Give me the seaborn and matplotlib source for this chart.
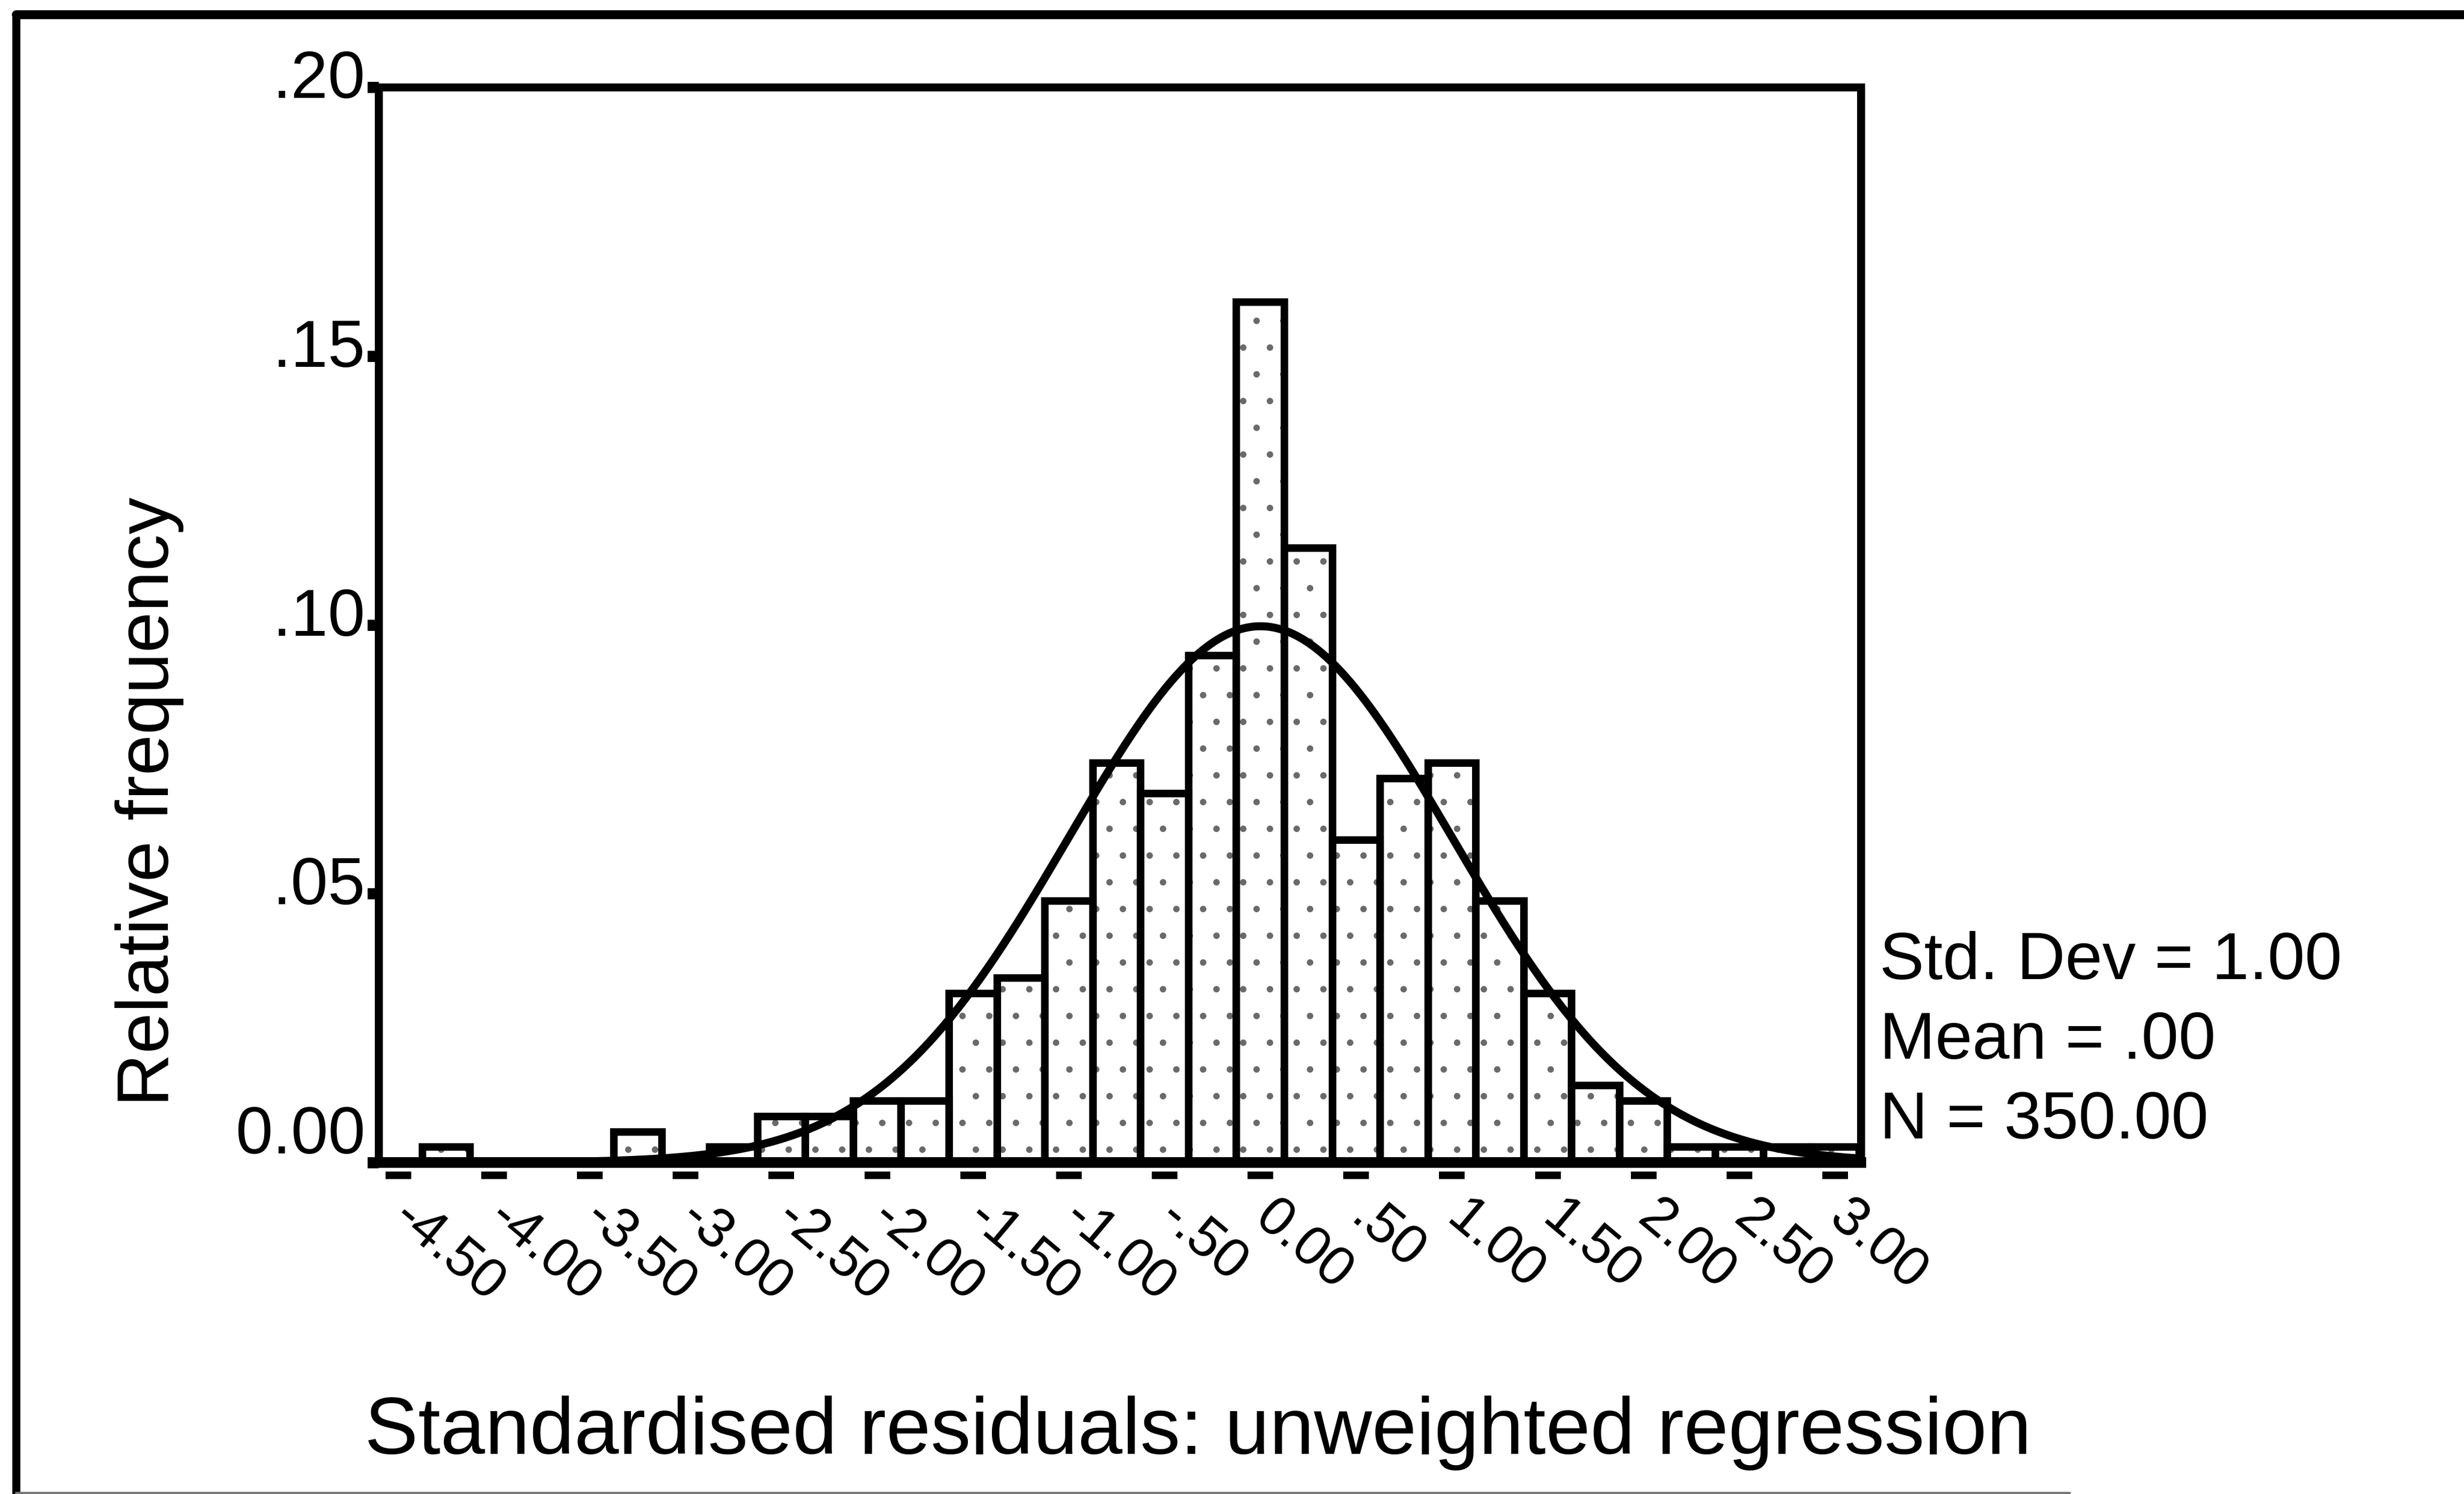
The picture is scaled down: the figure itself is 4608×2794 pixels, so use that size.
import numpy as np
import pandas as pd
import seaborn as sns
import matplotlib
matplotlib.use("Agg")
import matplotlib.pyplot as plt
from matplotlib.transforms import ScaledTranslation, blended_transform_factory
from matplotlib.lines import Line2D

# ---------------- data ----------------
bin_centers = [-4.25, -4.00, -3.75, -3.50, -3.25, -3.00, -2.75, -2.50, -2.25, -2.00,
               -1.75, -1.50, -1.25, -1.00, -0.75, -0.50, -0.25, 0.00, 0.25, 0.50,
               0.75, 1.00, 1.25, 1.50, 1.75, 2.00, 2.25, 2.50, 2.75, 3.00]
rel_freq = [0.0029, 0.0, 0.0, 0.0, 0.0057, 0.0, 0.0029, 0.0086, 0.0086, 0.0114,
            0.0114, 0.0314, 0.0343, 0.0486, 0.0743, 0.0686, 0.0943, 0.1600, 0.1143, 0.0600,
            0.0714, 0.0743, 0.0486, 0.0314, 0.0143, 0.0114, 0.0029, 0.0029, 0.0029, 0.0029]
bin_width = 0.25
x_tick_values = [-4.5, -4.0, -3.5, -3.0, -2.5, -2.0, -1.5, -1.0, -0.5, 0.0,
                 0.5, 1.0, 1.5, 2.0, 2.5, 3.0]
x_tick_labels = ["-4.50", "-4.00", "-3.50", "-3.00", "-2.50", "-2.00", "-1.50", "-1.00",
                 "-.50", "0.00", ".50", "1.00", "1.50", "2.00", "2.50", "3.00"]
y_tick_values = [0.0, 0.05, 0.10, 0.15, 0.20]
y_tick_labels = ["0.00", ".05", ".10", ".15", ".20"]
stat_mean = 0.00
stat_sd = 1.00
stat_n = 350.00
x_label = "Standardised residuals: unweighted regression"
y_label = "Relative frequency"

# ---------------- style ----------------
sns.set_theme(style="white")
plt.rcParams["font.family"] = ["Liberation Sans", "DejaVu Sans"]
plt.rcParams["hatch.linewidth"] = 0.5
for k in ["text.color", "axes.labelcolor", "xtick.color", "ytick.color", "axes.edgecolor"]:
    plt.rcParams[k] = "black"

W, H, DPI = 4608, 2794, 300
fig = plt.figure(figsize=(W / DPI, H / DPI), dpi=DPI)
fig.patch.set_facecolor("white")

# axes placement (pixel measurements of the reference)
ax_l, ax_r, ax_t, ax_b = 708, 3480, 163, 2174
ax = fig.add_axes([ax_l / W, 1 - ax_b / H, (ax_r - ax_l) / W, (ax_b - ax_t) / H])
ax.set_facecolor("white")

df = pd.DataFrame({"center": bin_centers, "freq": rel_freq})
lo = min(bin_centers) - bin_width / 2
hi = max(bin_centers) + bin_width / 2

# stippled fill
sns.histplot(data=df, x="center", weights="freq", binwidth=bin_width, binrange=(lo, hi),
             stat="count", fill=True, color="white", edgecolor="#6a6a6a", linewidth=0,
             ax=ax, zorder=1)
for p in ax.patches:
    p.set_hatch(".")
    p.set_edgecolor("#6a6a6a")
    p.set_linewidth(0)
# outlines
sns.histplot(data=df, x="center", weights="freq", binwidth=bin_width, binrange=(lo, hi),
             stat="count", fill=False, color="black", linewidth=3.4,
             ax=ax, zorder=2)

# fitted normal curve from the stated mean / sd
xs = np.linspace(-4.6, 3.13, 400)
ys = bin_width * np.exp(-0.5 * ((xs - stat_mean) / stat_sd) ** 2) / (stat_sd * np.sqrt(2 * np.pi))
sns.lineplot(x=xs, y=ys, color="black", linewidth=3.6, ax=ax, zorder=3)

ax.set_xlim(-4.603, 3.134)
ax.set_ylim(0, 0.20)

for s in ["left", "right", "top"]:
    ax.spines[s].set_visible(True)
    ax.spines[s].set_color("black")
    ax.spines[s].set_linewidth(3.6)
ax.spines["bottom"].set_color("black")
ax.spines["bottom"].set_linewidth(4.8)

# y ticks
ax.set_yticks(y_tick_values)
ax.set_yticklabels(y_tick_labels, fontsize=30)
ax.tick_params(axis="y", direction="out", length=5, width=5, color="black", pad=1, left=True)
for lab in ax.get_yticklabels():
    dy = 15 if lab.get_text() == "0.00" else 6
    lab.set_transform(lab.get_transform() + ScaledTranslation(0, dy / 72, fig.dpi_scale_trans))

# x ticks: labels rotated, dashes drawn as markers
ax.set_xticks(x_tick_values)
ax.set_xticklabels(x_tick_labels, fontsize=25, rotation=-40, ha="left", va="top",
                   rotation_mode="anchor")
ax.tick_params(axis="x", length=0, pad=13, bottom=True)
for lab in ax.get_xticklabels():
    lab.set_transform(lab.get_transform() + ScaledTranslation(8 / 72, 0, fig.dpi_scale_trans))
trans = blended_transform_factory(ax.transData, ax.transAxes)
ax.plot(x_tick_values, [-0.012] * len(x_tick_values), ls="none", marker="_",
        ms=11.5, mew=3.4, color="black", transform=trans, clip_on=False)

ax.set_xlabel("")
ax.set_ylabel("")

# axis titles
fig.text(280 / W, 1 - 1499 / H, y_label, rotation=90, ha="center", va="center", fontsize=33)
fig.text(2240 / W, 1 - 2680 / H, x_label, ha="center", va="center", fontsize=36)

# statistics text
stats_lines = [f"Std. Dev = {stat_sd:.2f}", f"Mean = {stat_mean:.2f}".replace("0.00", ".00"),
               f"N = {stat_n:.2f}"]
for i, line in enumerate(stats_lines):
    fig.text(3515 / W, 1 - (1799 + i * 149) / H, line, ha="left", va="center", fontsize=30)

# outer frame of the scanned figure
fig.add_artist(Line2D([30 / W, 30 / W], [0, 1 - 27 / H], color="black", lw=3.6,
                      transform=fig.transFigure))
fig.add_artist(Line2D([30 / W, 1.0], [1 - 27 / H, 1 - 27 / H], color="black", lw=4,
                      transform=fig.transFigure))
fig.add_artist(Line2D([30 / W, 3870 / W], [2 / H, 2 / H], color="#777777", lw=1.2,
                      transform=fig.transFigure))

fig.savefig("out.png", dpi=DPI, facecolor="white")
